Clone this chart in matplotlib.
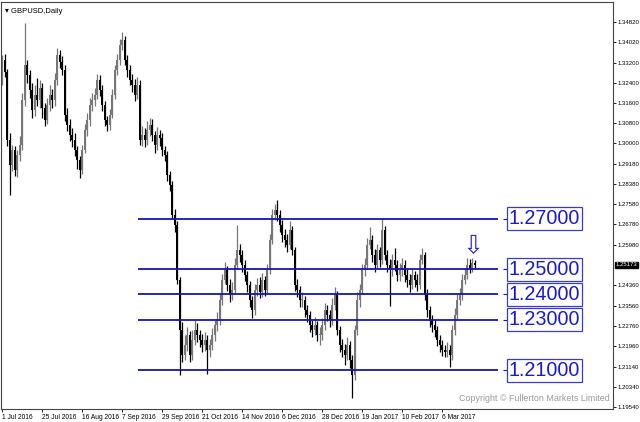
import matplotlib
matplotlib.use("Agg")
import matplotlib.pyplot as plt

# daily GBPUSD candles, 1 Jul 2016 onward
opens = [1.3252, 1.3331, 1.3283, 1.3013, 1.2914, 1.2974, 1.2894, 1.2954, 1.2993, 1.3172,
         1.3311, 1.3271, 1.3212, 1.3132, 1.3192, 1.3172, 1.3220, 1.3140, 1.3093, 1.3152,
         1.3192, 1.3172, 1.3252, 1.3351, 1.3323, 1.3291, 1.3113, 1.3073, 1.3033, 1.3013,
         1.2974, 1.2934, 1.2894, 1.2974, 1.3053, 1.3093, 1.3152, 1.3172, 1.3192, 1.3252,
         1.3212, 1.3152, 1.3093, 1.3073, 1.3113, 1.3192, 1.3291, 1.3331, 1.3390, 1.3410,
         1.3331, 1.3291, 1.3252, 1.3232, 1.3192, 1.3232, 1.3013, 1.3033, 1.3013, 1.3053,
         1.3073, 1.3033, 1.2993, 1.3033, 1.3021, 1.2974, 1.2954, 1.2874, 1.2835, 1.2715,
         1.2676, 1.2457, 1.2259, 1.2160, 1.2199, 1.2239, 1.2160, 1.2219, 1.2259, 1.2239,
         1.2219, 1.2199, 1.2219, 1.2180, 1.2199, 1.2239, 1.2279, 1.2299, 1.2378, 1.2457,
         1.2497, 1.2437, 1.2398, 1.2418, 1.2517, 1.2577, 1.2557, 1.2517, 1.2477, 1.2437,
         1.2378, 1.2338, 1.2418, 1.2437, 1.2410, 1.2457, 1.2418, 1.2497, 1.2616, 1.2715,
         1.2735, 1.2715, 1.2676, 1.2636, 1.2616, 1.2596, 1.2656, 1.2577, 1.2437, 1.2418,
         1.2378, 1.2378, 1.2338, 1.2319, 1.2279, 1.2259, 1.2279, 1.2239, 1.2239, 1.2279,
         1.2338, 1.2319, 1.2299, 1.2358, 1.2398, 1.2259, 1.2199, 1.2180, 1.2160, 1.2199,
         1.2140, 1.2080, 1.2259, 1.2378, 1.2418, 1.2497, 1.2517, 1.2596, 1.2616, 1.2557,
         1.2517, 1.2577, 1.2537, 1.2656, 1.2557, 1.2517, 1.2497, 1.2537, 1.2517, 1.2477,
         1.2497, 1.2517, 1.2477, 1.2457, 1.2437, 1.2477, 1.2457, 1.2437, 1.2537, 1.2557,
         1.2398, 1.2338, 1.2299, 1.2279, 1.2259, 1.2219, 1.2199, 1.2180, 1.2172, 1.2180,
         1.2160, 1.2259, 1.2319, 1.2378, 1.2398, 1.2457, 1.2477, 1.2517, 1.2505, 1.2525]
closes = [1.3331, 1.3283, 1.3013, 1.2914, 1.2974, 1.2894, 1.2954, 1.2993, 1.3172, 1.3311,
          1.3271, 1.3212, 1.3132, 1.3192, 1.3172, 1.3220, 1.3140, 1.3093, 1.3152, 1.3192,
          1.3172, 1.3252, 1.3351, 1.3323, 1.3291, 1.3113, 1.3073, 1.3033, 1.3013, 1.2974,
          1.2934, 1.2894, 1.2974, 1.3053, 1.3093, 1.3152, 1.3172, 1.3192, 1.3252, 1.3212,
          1.3152, 1.3093, 1.3073, 1.3113, 1.3192, 1.3291, 1.3331, 1.3390, 1.3410, 1.3331,
          1.3291, 1.3252, 1.3232, 1.3192, 1.3232, 1.3013, 1.3033, 1.3013, 1.3053, 1.3073,
          1.3033, 1.2993, 1.3033, 1.3021, 1.2974, 1.2954, 1.2874, 1.2835, 1.2715, 1.2676,
          1.2457, 1.2259, 1.2160, 1.2199, 1.2239, 1.2160, 1.2219, 1.2259, 1.2239, 1.2219,
          1.2199, 1.2219, 1.2180, 1.2199, 1.2239, 1.2279, 1.2299, 1.2378, 1.2457, 1.2497,
          1.2437, 1.2398, 1.2418, 1.2517, 1.2577, 1.2557, 1.2517, 1.2477, 1.2437, 1.2378,
          1.2338, 1.2418, 1.2437, 1.2410, 1.2457, 1.2418, 1.2497, 1.2616, 1.2715, 1.2735,
          1.2715, 1.2676, 1.2636, 1.2616, 1.2596, 1.2656, 1.2577, 1.2437, 1.2418, 1.2378,
          1.2378, 1.2338, 1.2319, 1.2279, 1.2259, 1.2279, 1.2239, 1.2239, 1.2279, 1.2338,
          1.2319, 1.2299, 1.2358, 1.2398, 1.2259, 1.2199, 1.2180, 1.2160, 1.2199, 1.2140,
          1.2080, 1.2259, 1.2378, 1.2418, 1.2497, 1.2517, 1.2596, 1.2616, 1.2557, 1.2517,
          1.2577, 1.2537, 1.2656, 1.2557, 1.2517, 1.2497, 1.2537, 1.2517, 1.2477, 1.2497,
          1.2517, 1.2477, 1.2457, 1.2437, 1.2477, 1.2457, 1.2437, 1.2537, 1.2557, 1.2398,
          1.2338, 1.2299, 1.2279, 1.2259, 1.2219, 1.2199, 1.2180, 1.2172, 1.2180, 1.2160,
          1.2259, 1.2319, 1.2378, 1.2398, 1.2457, 1.2477, 1.2517, 1.2505, 1.2525, 1.2517]
highs = [1.3351, 1.3355, 1.3295, 1.3040, 1.2995, 1.2990, 1.2975, 1.3030, 1.3200, 1.3478,
         1.3330, 1.3290, 1.3240, 1.3230, 1.3260, 1.3250, 1.3240, 1.3160, 1.3180, 1.3230,
         1.3215, 1.3280, 1.3378, 1.3370, 1.3345, 1.3310, 1.3140, 1.3095, 1.3060, 1.3040,
         1.2990, 1.2950, 1.2995, 1.3075, 1.3120, 1.3180, 1.3200, 1.3220, 1.3275, 1.3270,
         1.3230, 1.3170, 1.3110, 1.3135, 1.3215, 1.3310, 1.3355, 1.3415, 1.3442, 1.3425,
         1.3350, 1.3310, 1.3275, 1.3255, 1.3265, 1.3250, 1.3070, 1.3060, 1.3090, 1.3100,
         1.3095, 1.3050, 1.3065, 1.3055, 1.3040, 1.2990, 1.2970, 1.2890, 1.2850, 1.2740,
         1.2690, 1.2470, 1.2290, 1.2240, 1.2270, 1.2255, 1.2260, 1.2300, 1.2285, 1.2260,
         1.2245, 1.2250, 1.2240, 1.2225, 1.2265, 1.2300, 1.2330, 1.2400, 1.2480, 1.2530,
         1.2515, 1.2460, 1.2450, 1.2545, 1.2676, 1.2600, 1.2575, 1.2535, 1.2495, 1.2455,
         1.2395, 1.2440, 1.2465, 1.2470, 1.2485, 1.2475, 1.2520, 1.2640, 1.2740, 1.2760,
         1.2775, 1.2735, 1.2695, 1.2660, 1.2640, 1.2690, 1.2670, 1.2590, 1.2460, 1.2435,
         1.2410, 1.2395, 1.2360, 1.2335, 1.2300, 1.2310, 1.2295, 1.2270, 1.2305, 1.2365,
         1.2360, 1.2340, 1.2385, 1.2430, 1.2415, 1.2275, 1.2225, 1.2205, 1.2230, 1.2215,
         1.2160, 1.2280, 1.2410, 1.2440, 1.2520, 1.2545, 1.2625, 1.2668, 1.2635, 1.2580,
         1.2600, 1.2590, 1.2704, 1.2670, 1.2575, 1.2540, 1.2560, 1.2585, 1.2535, 1.2525,
         1.2545, 1.2535, 1.2500, 1.2480, 1.2500, 1.2495, 1.2480, 1.2560, 1.2585, 1.2570,
         1.2420, 1.2355, 1.2320, 1.2300, 1.2275, 1.2240, 1.2220, 1.2200, 1.2210, 1.2200,
         1.2280, 1.2345, 1.2400, 1.2425, 1.2480, 1.2505, 1.2545, 1.2540, 1.2545, 1.2535]
lows = [1.3232, 1.3265, 1.2990, 1.2795, 1.2890, 1.2870, 1.2865, 1.2930, 1.2975, 1.3150,
        1.3240, 1.3180, 1.3100, 1.3110, 1.3150, 1.3140, 1.3100, 1.3070, 1.3075, 1.3130,
        1.3140, 1.3150, 1.3230, 1.3300, 1.3270, 1.3090, 1.3050, 1.3010, 1.2985, 1.2950,
        1.2900, 1.2862, 1.2880, 1.2960, 1.3030, 1.3070, 1.3130, 1.3150, 1.3175, 1.3190,
        1.3130, 1.3070, 1.3050, 1.3055, 1.3100, 1.3175, 1.3270, 1.3310, 1.3370, 1.3310,
        1.3265, 1.3230, 1.3205, 1.3170, 1.3175, 1.2995, 1.2990, 1.2985, 1.2995, 1.3030,
        1.3010, 1.2960, 1.2975, 1.2990, 1.2950, 1.2930, 1.2850, 1.2810, 1.2700, 1.2650,
        1.2440, 1.2080, 1.2130, 1.2140, 1.2175, 1.2130, 1.2140, 1.2200, 1.2210, 1.2190,
        1.2170, 1.2175, 1.2085, 1.2150, 1.2180, 1.2215, 1.2255, 1.2280, 1.2360, 1.2440,
        1.2415, 1.2370, 1.2380, 1.2400, 1.2500, 1.2530, 1.2490, 1.2455, 1.2410, 1.2350,
        1.2307, 1.2320, 1.2395, 1.2385, 1.2390, 1.2395, 1.2400, 1.2480, 1.2600, 1.2695,
        1.2690, 1.2650, 1.2610, 1.2590, 1.2570, 1.2580, 1.2555, 1.2415, 1.2390, 1.2350,
        1.2350, 1.2310, 1.2290, 1.2250, 1.2230, 1.2240, 1.2215, 1.2199, 1.2220, 1.2260,
        1.2295, 1.2270, 1.2280, 1.2340, 1.2240, 1.2170, 1.2150, 1.2120, 1.2140, 1.2110,
        1.1989, 1.2060, 1.2240, 1.2350, 1.2400, 1.2475, 1.2500, 1.2580, 1.2530, 1.2490,
        1.2500, 1.2510, 1.2520, 1.2535, 1.2490, 1.2355, 1.2475, 1.2495, 1.2455, 1.2455,
        1.2475, 1.2450, 1.2430, 1.2410, 1.2420, 1.2430, 1.2415, 1.2420, 1.2520, 1.2380,
        1.2310, 1.2270, 1.2250, 1.2230, 1.2195, 1.2170, 1.2155, 1.2150, 1.2150, 1.2112,
        1.2140, 1.2240, 1.2300, 1.2360, 1.2380, 1.2440, 1.2460, 1.2485, 1.2490, 1.2500]

date_labels = ["1 Jul 2016", "25 Jul 2016", "16 Aug 2016", "7 Sep 2016", "29 Sep 2016",
               "21 Oct 2016", "14 Nov 2016", "6 Dec 2016", "28 Dec 2016", "19 Jan 2017",
               "10 Feb 2017", "6 Mar 2017"]
price_ticks = [1.34820, 1.34020, 1.33200, 1.32400, 1.31600, 1.30800, 1.30000, 1.29180,
               1.28380, 1.27580, 1.26780, 1.25980, 1.24360, 1.23560, 1.22760, 1.21960,
               1.21140, 1.20340, 1.19540]
levels = [1.27, 1.25, 1.24, 1.23, 1.21]
last_price = 1.25173

fig = plt.figure(figsize=(6.4, 4.22), dpi=100)
ax = fig.add_axes([1 / 640, 13 / 422, 612 / 640, 407 / 422])

up_col = "#777777"
dn_col = "#000000"
for i, (o, h, l, c) in enumerate(zip(opens, highs, lows, closes)):
    col = up_col if c >= o else dn_col
    ax.vlines(i, l, h, color=col, lw=0.9)
    body = max(abs(c - o), 0.0004)
    ax.bar(i, body, bottom=min(o, c), width=0.72, color=col, linewidth=0)

# support / resistance lines with boxed labels
line_start, line_end = 54.4, 198.4
for lv in levels:
    ax.hlines(lv, line_start, line_end, color="#1616b0", lw=1.3)
    ax.hlines(lv, 200.5, 202.0, color="#1616b0", lw=0.8)
    ax.text(202.7, lv, f"{lv:.5f}", color="#1a1ad0", fontsize=14.2,
            family="Liberation Sans", va="center", ha="left",
            bbox=dict(boxstyle="square,pad=0.1", fc="white", ec="#3a3ad8", lw=0.9))

ax.text(188.4, 1.2593, "\u21e9", color="#2a2ad0", fontsize=18, ha="center",
        va="center", family="DejaVu Sans")

ax.set_xlim(-0.4, 244.4)
ax.set_ylim(1.19453, 1.35613)

ax.yaxis.tick_right()
ax.set_yticks(price_ticks)
ax.set_yticklabels([f"{p:.5f}" for p in price_ticks], fontsize=4.3,
                   family="Liberation Sans")
ax.set_xticks([16 * k for k in range(len(date_labels))])
ax.set_xticklabels(date_labels, fontsize=4.8, family="Liberation Sans", ha="left")
ax.tick_params(axis="both", length=2.5, width=0.6, pad=1.0, colors="black")
for s in ax.spines.values():
    s.set_linewidth(0.8)
    s.set_color("#444444")

ax.text(1.004, last_price, "1.25173", transform=ax.get_yaxis_transform(),
        fontsize=4.3, color="white", va="center", ha="left", family="Liberation Sans",
        bbox=dict(boxstyle="square,pad=0.12", fc="black", ec="black"))

ax.text(0.006, 0.985, "\u25be GBPUSD,Daily", transform=ax.transAxes,
        fontsize=5.5, va="top", ha="left", family=["Liberation Sans", "DejaVu Sans"])
ax.text(0.994, 0.014, "Copyright \u00a9 Fullerton Markets Limited",
        transform=ax.transAxes, fontsize=6.4, color="#9a9a9a", ha="right",
        va="bottom", family="Liberation Sans")

fig.savefig("out.png", dpi=100)
